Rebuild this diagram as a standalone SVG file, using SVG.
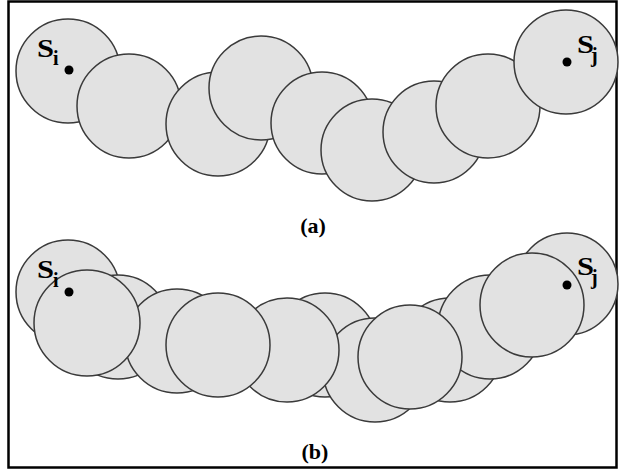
<svg xmlns="http://www.w3.org/2000/svg" width="619" height="474" viewBox="0 0 619 474">
<style>
.c{fill:#e2e2e2;stroke:#3a3a3a;stroke-width:1.5}
.d{fill:#000}
.t{font-family:"Liberation Serif","Times New Roman",serif;font-weight:bold;fill:#000}
.big{font-size:26px}
.sub{font-size:20px}
.lab{font-size:22px}
</style>
<rect x="0" y="0" width="619" height="474" fill="#fff"/>
<rect x="8.5" y="1.5" width="608" height="466" fill="none" stroke="#000" stroke-width="2.5"/>
<g id="a-circles">
<circle id="a1" class="c" cx="68" cy="71" r="52"/>
<circle id="a2" class="c" cx="129" cy="106" r="52"/>
<circle id="a3" class="c" cx="218" cy="124" r="52"/>
<circle id="a4" class="c" cx="261" cy="88" r="52"/>
<circle id="a5" class="c" cx="322" cy="123" r="51"/>
<circle id="a6" class="c" cx="372" cy="150" r="51"/>
<circle id="a7" class="c" cx="434" cy="132" r="51"/>
<circle id="a8" class="c" cx="488" cy="106" r="52"/>
<circle id="a9" class="c" cx="566" cy="62" r="52"/>
</g>
<g id="a-labels">
<circle class="d" cx="69" cy="70" r="4.5"/>
<circle class="d" cx="567" cy="62" r="4.5"/>
<text class="t big" x="37" y="57" textLength="17" lengthAdjust="spacingAndGlyphs">S</text>
<text class="t sub" x="53" y="65">i</text>
<text class="t big" x="577" y="53" textLength="17" lengthAdjust="spacingAndGlyphs">S</text>
<text class="t sub" x="591" y="62">j</text>
<text class="t lab" x="313" y="233" text-anchor="middle">(a)</text>
</g>
<g id="b-circles">
<circle id="bA" class="c" cx="68" cy="292" r="52"/>
<circle id="bC" class="c" cx="118" cy="327" r="52"/>
<circle id="bD" class="c" cx="177" cy="341" r="52"/>
<circle id="bB" class="c" cx="87" cy="323" r="53"/>
<circle id="bH" class="c" cx="325" cy="345" r="52"/>
<circle id="bI" class="c" cx="375" cy="370" r="52"/>
<circle id="bG" class="c" cx="287" cy="350" r="52"/>
<circle id="bE" class="c" cx="218" cy="345" r="52"/>
<circle id="bL" class="c" cx="567" cy="284" r="51"/>
<circle id="bP" class="c" cx="450" cy="350" r="52"/>
<circle id="bJ" class="c" cx="490" cy="327" r="52"/>
<circle id="bN" class="c" cx="410" cy="357" r="52"/>
<circle id="bK" class="c" cx="532" cy="305" r="52"/>
</g>
<g id="b-labels">
<circle class="d" cx="69" cy="292" r="4.5"/>
<circle class="d" cx="567" cy="285" r="4.5"/>
<text class="t big" x="37" y="278" textLength="17" lengthAdjust="spacingAndGlyphs">S</text>
<text class="t sub" x="53" y="287">i</text>
<text class="t big" x="577" y="275" textLength="17" lengthAdjust="spacingAndGlyphs">S</text>
<text class="t sub" x="591" y="284">j</text>
<text class="t lab" x="315" y="459" text-anchor="middle">(b)</text>
</g>
</svg>
